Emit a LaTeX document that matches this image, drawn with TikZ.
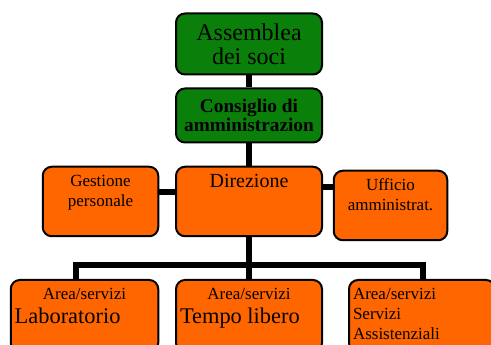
\documentclass[tikz,border=0pt]{standalone}
\usepackage{fontspec}
\setmainfont{Liberation Serif}
\usetikzlibrary{calc}
\definecolor{soci}{HTML}{0A800A}
\definecolor{arancio}{HTML}{FF6600}
\newcommand{\boxtext}[3]{\parbox[c][#2pt][t]{#1pt}{#3}}
\newcommand{\firstline}[1]{\rule{0pt}{#1pt}}

\begin{document}
\begin{tikzpicture}[x=1pt, y=1pt,
	box/.style={draw=black, line width=2pt, rounded corners=9pt, inner sep=0pt},
	verde/.style={box, fill=soci},
	arancione/.style={box, fill=arancio},
	conn/.style={line width=6pt, line join=miter}]
			%%%%% START %%%%%
			\useasboundingbox (0, 0) rectangle (491, 345);
			\clip (0, 0) rectangle (491, 345);
			
			\node[verde] (ass) at (249, 301) {\boxtext{146}{61}{\centering\fontsize{24}{24}\selectfont\firstline{27}Assemblea\\dei soci}};
			\node[verde] (cons) at (249, 229.5) {\boxtext{146}{54}{\centering\bfseries\fontsize{19.3}{19.5}\selectfont\firstline{24}Consiglio di\\amministrazion}};
			
			\node[arancione] (gest) at (100.5, 143.5) {\boxtext{115.5}{69.5}{\centering\fontsize{17}{20}\selectfont\firstline{20}Gestione\\personale}};
			\node[arancione] (dir) at (249, 143.5) {\boxtext{146}{69.5}{\centering\fontsize{20}{22}\selectfont\firstline{21}Direzione}};
			\node[arancione] (uff) at (390.5, 139.5) {\boxtext{113.5}{69.5}{\centering\fontsize{17}{20}\selectfont\firstline{20}Ufficio\\amministrat.}};
			
			\node[arancione] (lab) at (84.5, 29) {\boxtext{147.5}{72}{{\centering\fontsize{17}{20}\selectfont\firstline{20}Area/servizi\par}\fontsize{22.4}{24}\selectfont\leftskip=4pt Laboratorio}};
			\node[arancione] (tempo) at (249, 29) {\boxtext{146}{72}{{\centering\fontsize{17}{20}\selectfont\firstline{20}Area/servizi\par}\fontsize{22.4}{24}\selectfont\leftskip=4pt Tempo libero}};
			\node[arancione] (serv) at (422, 29) {\boxtext{146}{72}{\raggedright\leftskip=4pt\fontsize{17}{20}\selectfont\firstline{20}Area/servizi\\Servizi\\Assistenziali}};
			
			% collegamenti
			\draw[conn] (ass.south) -- (cons.north);
			\draw[conn] (cons.south) -- (dir.north);
			\draw[conn] ([yshift=9.5pt]gest.east) -- ([yshift=9.5pt]dir.west);
			\draw[conn] ([yshift=14.5pt]dir.east) -- ([yshift=14.5pt]dir.east -| uff.west);
			
			\coordinate (bar) at (249, 80);
			\draw[conn] (dir.south) -- (bar);
			\draw[conn] ([xshift=-8.5pt]lab.north) |- (bar) -| ([xshift=1pt]serv.north);
			\draw[conn] (tempo.north) -- (bar);
			
			%%%%% END %%%%%
\end{tikzpicture}
\end{document}
